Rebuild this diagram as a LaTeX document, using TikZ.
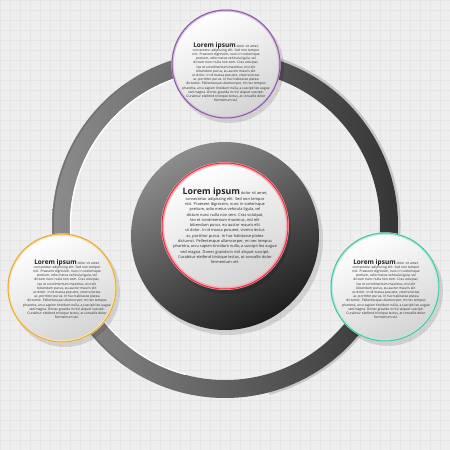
\documentclass[tikz,border=0pt]{standalone}
\usepackage{fontspec}
\setmainfont{Open Sans}
\definecolor{bggray}{HTML}{EEEEEE}
\definecolor{gridgray}{HTML}{E5E5E5}
\definecolor{ringlight}{HTML}{8C8C8C}
\definecolor{ringdark}{HTML}{353535}
\definecolor{rimpurple}{HTML}{8E54A8}
\definecolor{rimorange}{HTML}{E9A935}
\definecolor{rimteal}{HTML}{45C4A6}
\definecolor{rimred}{HTML}{E2303F}
\newcommand{\lorembody}{consectetur adipiscing elit. Sed non tempor\\
nisl. Praesent dignissim, nunc in scelerisque\\
pretium, odio metus vehicula ligula, vel\\
dictum nunc nulla non sem. Cras volutpat,\\
leo et condimentum maximus, nisl elit\\
bibendum purus, eu auctor mauris elit\\
ut dolor. In id massa posuere, viverra lectus\\
ac, porttitor purus. In hac habitasse platea\\
dictumst. Pellentesque ullamcorper, mi nec tempus\\
pharetra, arcu sapien tincidunt nulla, a suscipit leo augue\\
sed magna. Donec gravida in nisl aliquet suscipit.\\
Curabitur eleifend tristique lectus, at convallis dolor\\
fermentum vel.}
\newcommand{\loremhead}[1]{{\fontsize{#1}{#1}\selectfont\bfseries Lorem ipsum} dolor sit amet,\\ \lorembody}
\begin{document}
\begin{tikzpicture}[x=1pt,y=-1pt, line join=round, line cap=round,
  bubble/.style={shading=axis, top color=white, bottom color=black!17, shading angle=25},
  dropshade/.style={fill=black, opacity=.12},
  smalltext/.style={align=center, text=black!85, font=\fontsize{3.3}{4.2}\selectfont},
  bigtext/.style={align=center, text=black!85, font=\fontsize{3.9}{5.3}\selectfont}]
\def\rx{225} \def\ry{225} % ring
\def\cx{225} \def\cy{226} % centre
\useasboundingbox (0,0) rectangle (450,450);
\fill[bggray] (0,0) rectangle (450,450);
\foreach \g in {0,10,...,450}{
  \draw[gridgray, line width=.4] (\g,0)--(\g,450);
  \draw[gridgray, line width=.4] (0,\g)--(450,\g);
}
% ring
\draw[black!22, line width=3] (\rx,\ry) ++(-75:174) arc[start angle=-75, end angle=75, radius=174];
\shade[even odd rule, left color=ringlight, right color=ringdark] (\rx,\ry) circle (173) circle (155);
\draw[black!55, line width=1.5] (\rx,\ry) ++(125:172) arc[start angle=125, end angle=235, radius=172];
\draw[white, line width=1.4] (\rx,\ry) ++(105:154.5) arc[start angle=105, end angle=255, radius=154.5];
% centre disk
\fill[dropshade] (\cx+3,\cy+14) circle (95);
\shade[shading=axis, top color=black!45, bottom color=black!88, shading angle=30] (\cx,\cy+10) circle (94);
\fill[dropshade] (\cx+2,\cy+4) circle (64);
\shade[bubble] (\cx,\cy) circle (63);
\draw[rimred!40, line width=3] (\cx,\cy) circle (62.5);
\draw[rimred, line width=1] (\cx,\cy) circle (63);
% outer bubbles
\foreach \bx/\by/\rim in {226/64/rimpurple, 62/288/rimorange, 385/287/rimteal}{
  \fill[dropshade] (\bx+3,\by+4) circle (55);
  \shade[bubble] (\bx,\by) circle (54);
  \draw[\rim!35, line width=2.5] (\bx,\by) circle (53.5);
  \draw[\rim, line width=1] (\bx,\by) circle (54);
}
\node[bigtext] (centretext) at (\cx,\cy) {\loremhead{8.8}};
\node[smalltext] (toptext) at (226,72) {\loremhead{6.5}};
\node[smalltext] (lefttext) at (67,289) {\loremhead{6.5}};
\node[smalltext] (righttext) at (386,289) {\loremhead{6.5}};
\end{tikzpicture}
\end{document}
